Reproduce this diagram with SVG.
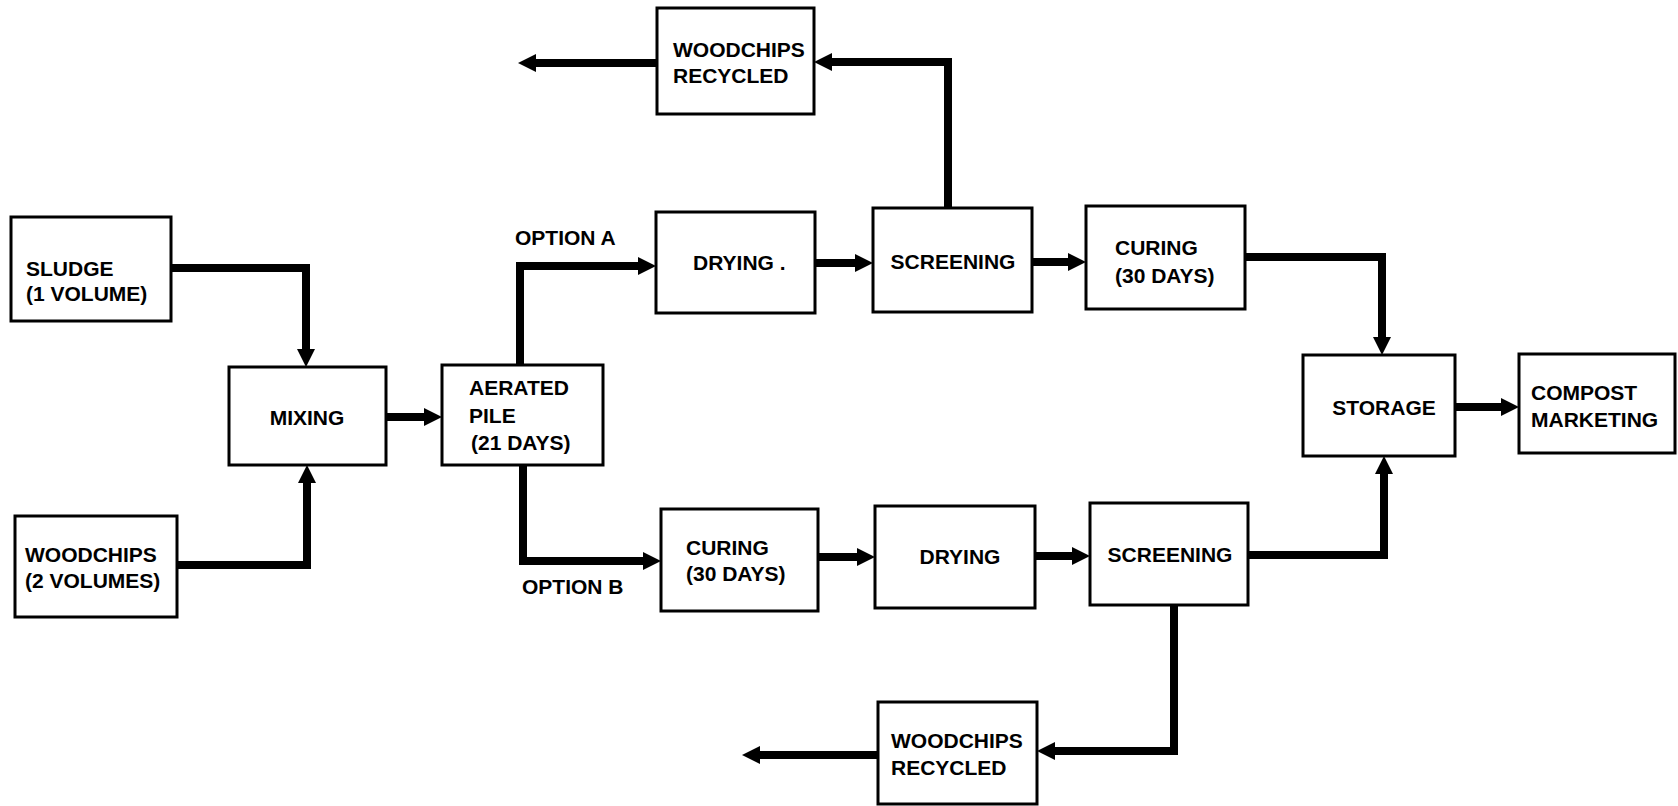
<svg xmlns="http://www.w3.org/2000/svg" width="1678" height="806" viewBox="0 0 1678 806">
<style>
.box{fill:#fff;stroke:#000;stroke-width:3}
.t{font-family:"Liberation Sans",Arial,sans-serif;font-weight:bold;font-size:21px;fill:#000}
.c{fill:none;stroke:#000;stroke-width:8;stroke-linejoin:miter}
</style>
<defs>
<marker id="ah" markerUnits="userSpaceOnUse" markerWidth="20" markerHeight="20" viewBox="0 -10 20 20" refX="1" refY="0" orient="auto"><path d="M0,-9 L18,0 L0,9 z" fill="#000"/></marker>
</defs>
<rect width="1678" height="806" fill="#fff"/>
<g id="connectors">
<path class="c" d="M171,268 H306 V350" marker-end="url(#ah)"/>
<path class="c" d="M177,565 H307 V482" marker-end="url(#ah)"/>
<path class="c" d="M386,417 H425" marker-end="url(#ah)"/>
<path class="c" d="M520,367 V266 H639" marker-end="url(#ah)"/>
<path class="c" d="M523,465 V561 H644" marker-end="url(#ah)"/>
<path class="c" d="M815,263 H856" marker-end="url(#ah)"/>
<path class="c" d="M1032,262 H1069" marker-end="url(#ah)"/>
<path class="c" d="M1245,257 H1382 V338" marker-end="url(#ah)"/>
<path class="c" d="M1455,407 H1502" marker-end="url(#ah)"/>
<path class="c" d="M818,557 H858" marker-end="url(#ah)"/>
<path class="c" d="M1035,556 H1073" marker-end="url(#ah)"/>
<path class="c" d="M1248,555 H1384 V473" marker-end="url(#ah)"/>
<path class="c" d="M948,208 V62 H831" marker-end="url(#ah)"/>
<path class="c" d="M657,63 H535" marker-end="url(#ah)"/>
<path class="c" d="M1174,605 V751 H1054" marker-end="url(#ah)"/>
<path class="c" d="M878,755 H759" marker-end="url(#ah)"/>
</g>
<g id="labels">
<text class="t" x="515" y="245">OPTION A</text>
<text class="t" x="522" y="594">OPTION B</text>
</g>
<g id="sludge"><rect class="box" x="11" y="217" width="160" height="104"/>
<text class="t" x="26" y="276">SLUDGE</text><text class="t" x="26" y="301">(1 VOLUME)</text></g>
<g id="woodchips"><rect class="box" x="15" y="516" width="162" height="101"/>
<text class="t" x="25" y="562">WOODCHIPS</text><text class="t" x="25" y="588">(2 VOLUMES)</text></g>
<g id="mixing"><rect class="box" x="229" y="367" width="157" height="98"/>
<text class="t" x="307" y="425" text-anchor="middle">MIXING</text></g>
<g id="aerated"><rect class="box" x="442" y="365" width="161" height="100"/>
<text class="t" x="469" y="395">AERATED</text><text class="t" x="469" y="423">PILE</text><text class="t" x="471" y="450">(21 DAYS)</text></g>
<g id="drying-a"><rect class="box" x="656" y="212" width="159" height="101"/>
<text class="t" x="693" y="270">DRYING .</text></g>
<g id="screening-a"><rect class="box" x="873" y="208" width="159" height="104"/>
<text class="t" x="953" y="269" text-anchor="middle">SCREENING</text></g>
<g id="curing-a"><rect class="box" x="1086" y="206" width="159" height="103"/>
<text class="t" x="1115" y="255">CURING</text><text class="t" x="1115" y="283">(30 DAYS)</text></g>
<g id="woodchips-recycled-a"><rect class="box" x="657" y="8" width="157" height="106"/>
<text class="t" x="673" y="57">WOODCHIPS</text><text class="t" x="673" y="83">RECYCLED</text></g>
<g id="storage"><rect class="box" x="1303" y="355" width="152" height="101"/>
<text class="t" x="1384" y="415" text-anchor="middle">STORAGE</text></g>
<g id="compost"><rect class="box" x="1519" y="354" width="156" height="99"/>
<text class="t" x="1531" y="400">COMPOST</text><text class="t" x="1531" y="427">MARKETING</text></g>
<g id="curing-b"><rect class="box" x="661" y="509" width="157" height="102"/>
<text class="t" x="686" y="555">CURING</text><text class="t" x="686" y="581">(30 DAYS)</text></g>
<g id="drying-b"><rect class="box" x="875" y="506" width="160" height="102"/>
<text class="t" x="960" y="564" text-anchor="middle">DRYING</text></g>
<g id="screening-b"><rect class="box" x="1090" y="503" width="158" height="102"/>
<text class="t" x="1170" y="562" text-anchor="middle">SCREENING</text></g>
<g id="woodchips-recycled-b"><rect class="box" x="878" y="702" width="159" height="102"/>
<text class="t" x="891" y="748">WOODCHIPS</text><text class="t" x="891" y="775">RECYCLED</text></g>
</svg>
